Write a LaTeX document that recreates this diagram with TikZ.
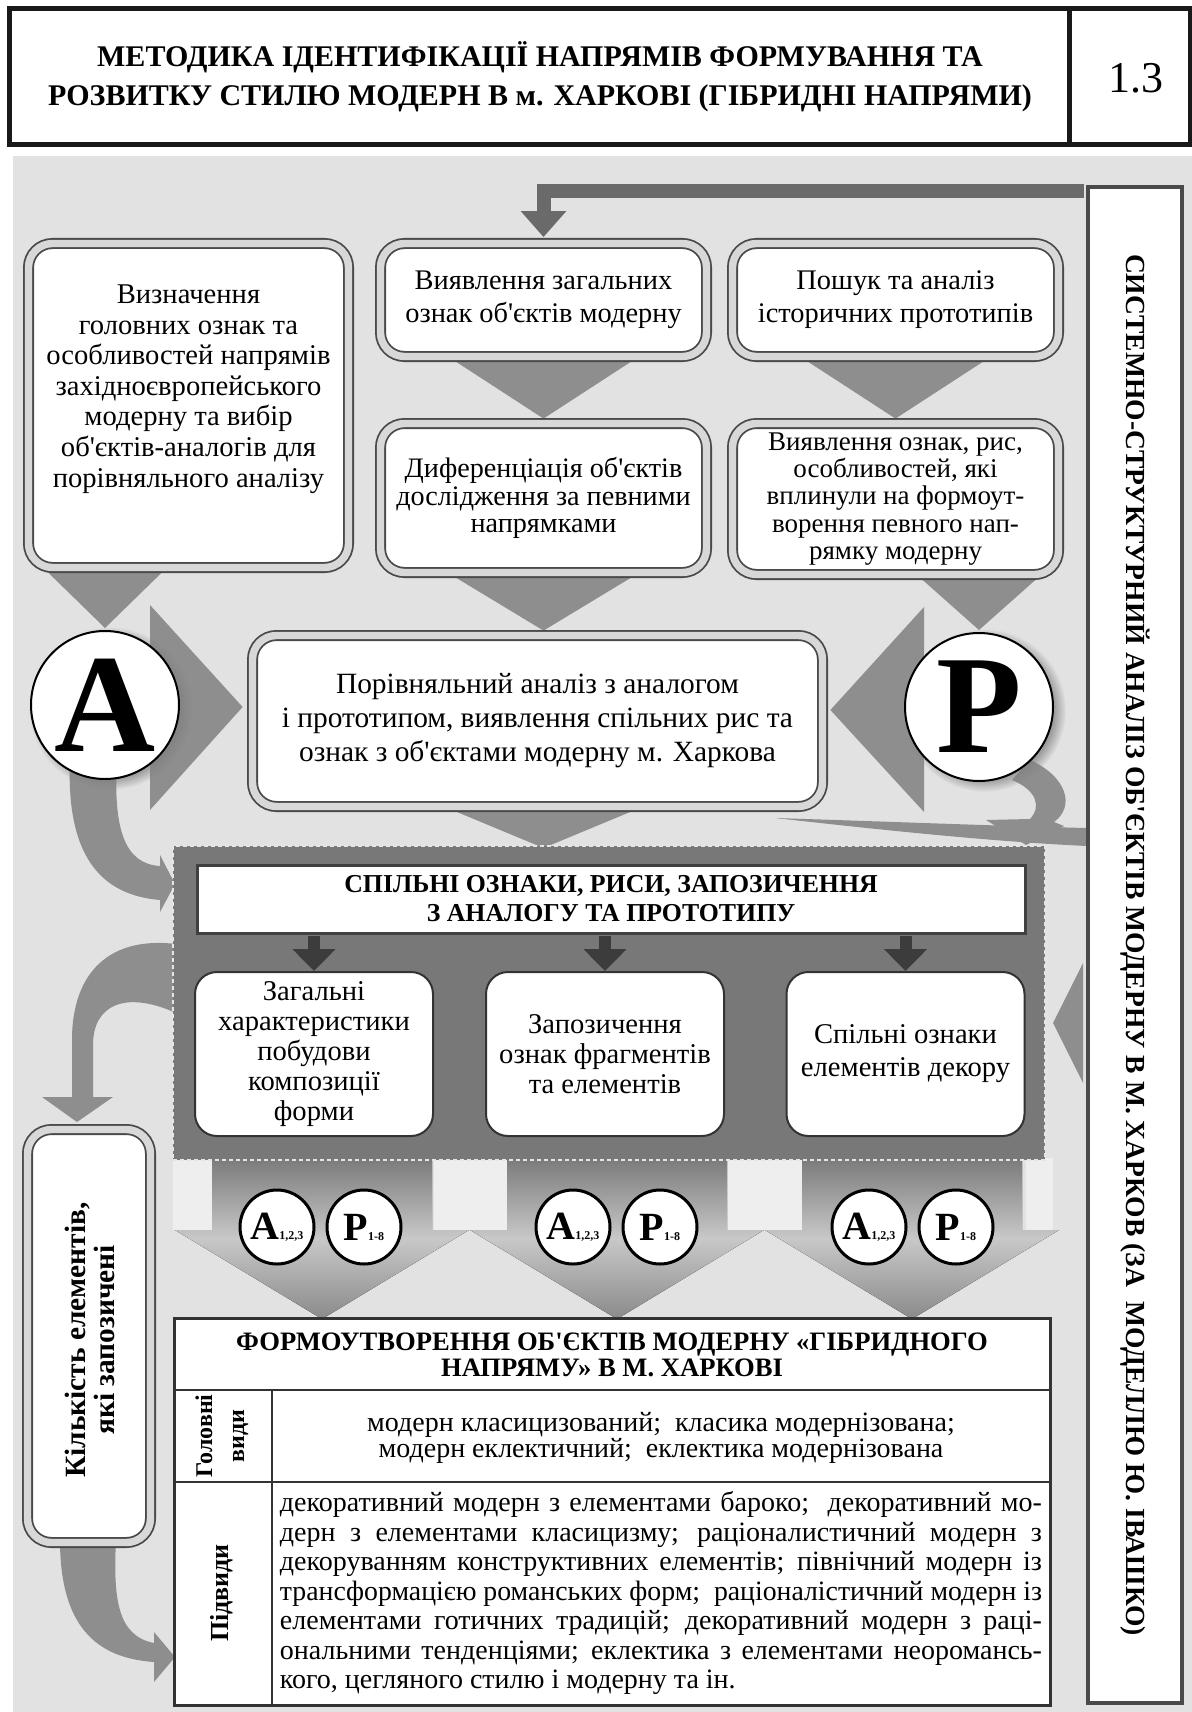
\documentclass[tikz,border=0pt]{standalone}
\usepackage{fontspec}
\usepackage{graphicx}
\setmainfont{Liberation Serif}[Ligatures=TeXOff]
\usetikzlibrary{calc,arrows.meta,shadows,backgrounds}
\definecolor{bg}{HTML}{E2E2E2}
\definecolor{marr}{HTML}{8E8E8E}
\definecolor{darr}{HTML}{6A6A6A}
\definecolor{bdark}{HTML}{4A4A4A}
\definecolor{dgray}{HTML}{787878}
\definecolor{gapc}{HTML}{D8D8D8}
\definecolor{sarr}{HTML}{3C3C3C}
\definecolor{patch}{HTML}{EEEEEE}
\definecolor{bshadeA}{HTML}{7A7A7A}
\definecolor{bshadeB}{HTML}{C8C8C8}
\definecolor{bshadeC}{HTML}{8A8A8A}
\newcommand\fsz[2]{\fontsize{#1}{#2}\selectfont}
\newsavebox\jlbox
\newcommand\jline[1]{\sbox\jlbox{#1}\ifdim\wd\jlbox>381pt \resizebox{381pt}{\height}{\usebox\jlbox}\else\makebox[381pt][s]{#1}\fi}
\tikzset{
 dbox/.style={draw=bdark, line width=0.9pt, double=gapc, double distance=3.7pt, fill=white, rounded corners=12pt, inner sep=0pt, align=center},
 sbox/.style={draw=black!80, line width=1pt, fill=white, rounded corners=11pt, inner sep=0pt, align=center, minimum width=119pt, minimum height=82pt},
 bigc/.style={circle, draw=black, line width=1pt, fill=white, inner sep=0pt, minimum size=74pt, circular drop shadow={shadow xshift=2.5pt, shadow yshift=-1.5pt, shadow scale=1.1, opacity=0.7}},
 smc/.style={circle, draw=black, line width=1.5pt, fill=white, inner sep=0pt, minimum size=37pt},
 sarrow/.style={draw=sarr, line width=6pt, -{Triangle[width=21pt,length=11pt]}, shorten <=0.75pt},
 tline/.style={draw=black!80, line width=1.2pt},
 blk/.style={top color=bshadeA, bottom color=bshadeC, middle color=bshadeB},
}
\begin{document}
\begin{tikzpicture}[x=0.5pt,y=-0.5pt]
\useasboundingbox (0,0) rectangle (1192,1712);
\clip (0,0) rectangle (1192,1712);
% header
\draw[line width=2.5pt, black!90] (9,9) rectangle (1190,145);
\draw[line width=2.5pt, black!90] (1069,9) -- (1069,145);
\node[font=\fsz{15}{19.5}\bfseries, align=center] (H) at (540,77) {МЕТОДИКА ІДЕНТИФІКАЦІЇ НАПРЯМІВ ФОРМУВАННЯ ТА\\РОЗВИТКУ СТИЛЮ МОДЕРН В м. ХАРКОВІ (ГІБРИДНІ НАПРЯМИ)};
\node[font=\fsz{22}{22}] (N) at (1136,78) {1.3};
% right vertical box
\node[draw=bdark, line width=2pt, fill=white, minimum width=47pt, minimum height=758pt, inner sep=0pt] (V) at (1135,945) {};
\node[rotate=-90, font=\fsz{13.8}{14}\bfseries] (Vt) at (V.center) {СИСТЕМНО-СТРУКТУРНИЙ АНАЛІЗ ОБ'ЄКТІВ МОДЕРНУ В М. ХАРКОВ (ЗА\ \ МОДЕЛЛЮ Ю. ІВАШКО)};
% top boxes
\node[dbox, minimum width=160pt, minimum height=162pt] (L1) at (188.5,405.5) {};
\node[font=\fsz{14.3}{15.3}, align=center] (L1t) at (188.5,389) {Визначення\\головних ознак та\\особливостей напрямів\\західноєвропейського\\модерну та вибір\\об'єктів-аналогів для\\порівняльного аналізу};
\node[dbox, minimum width=163pt, minimum height=56.5pt, font=\fsz{14.2}{16.5}] (M1) at (543.5,300) {Виявлення загальних\\ознак об'єктів модерну};
\node[dbox, minimum width=163pt, minimum height=56.5pt, font=\fsz{14.2}{16.5}] (R1) at (895.5,300) {Пошук та аналіз\\історичних прототипів};
\node[dbox, minimum width=163pt, minimum height=74.5pt, font=\fsz{14.1}{13.6}] (M2) at (543.5,498) {Диференціація об'єктів\\дослідження за певними\\напрямками};
\node[dbox, minimum width=163pt, minimum height=75.5pt, font=\fsz{13.5}{13.6}] (R2) at (895.5,499) {Виявлення ознак, рис,\\особливостей, які\\вплинули на формоут-\\ворення певного нап-\\рямку модерну};
\node[dbox, minimum width=285pt, minimum height=85.5pt, font=\fsz{14.7}{17}] (C) at (537.5,721) {Порівняльний аналіз з аналогом\\і прототипом, виявлення спільних рис та\\ознак з об'єктами модерну м. Харкова};
% big circles
\node[bigc, font=\fsz{70}{70}\bfseries] (A) at (105,705) {А};
\node[bigc, font=\fsz{70}{70}\bfseries] (P) at (979,707) {Р};
% dashed container
\node[fill=dgray, draw=white!90!black, line width=1pt, dash pattern=on 2pt off 1.5pt, minimum width=436pt, minimum height=157pt, inner sep=0pt] (D) at (609,1003) {};
\node[draw=black!75, line width=1.5pt, fill=white, minimum width=414pt, minimum height=34pt, inner sep=0pt, align=center, font=\fsz{12.9}{14.5}\bfseries] (T) at (611,899) {СПІЛЬНІ ОЗНАКИ, РИСИ, ЗАПОЗИЧЕННЯ\\З АНАЛОГУ ТА ПРОТОТИПУ};
\node[sbox, font=\fsz{14.3}{15}] (S1) at (314,1054) {Загальні\\характеристики\\побудови\\композиції\\форми};
\node[sbox, font=\fsz{14.3}{15}] (S2) at (605,1054) {Запозичення\\ознак фрагментів\\та елементів};
\node[sbox, font=\fsz{14.3}{16.5}] (S3) at (905.5,1054) {Спільні ознаки\\елементів декору};
\draw[sarrow] (T.south -| S1.north) -- (S1.north);
\draw[sarrow] (T.south -| S2.north) -- (S2.north);
\draw[sarrow] (T.south -| S3.north) -- (S3.north);
% small circles
\node[smc] (a1) at (277,1227) {\fsz{20}{20}\bfseries А\fsz{6}{6}1,2,3};
\node[smc] (p1) at (364,1227) {\fsz{20}{20}\bfseries Р\fsz{6}{6}1-8};
\node[smc] (a2) at (573,1227) {\fsz{20}{20}\bfseries А\fsz{6}{6}1,2,3};
\node[smc] (p2) at (660,1227) {\fsz{20}{20}\bfseries Р\fsz{6}{6}1-8};
\node[smc] (a3) at (869,1227) {\fsz{20}{20}\bfseries А\fsz{6}{6}1,2,3};
\node[smc] (p3) at (956,1227) {\fsz{20}{20}\bfseries Р\fsz{6}{6}1-8};
% table
\node[draw=black!80, line width=1.5pt, fill=white, minimum width=438pt, minimum height=193.5pt, inner sep=0pt] (Tab) at (612,1511.5) {};
\draw[tline] (174,1390) -- (1050,1390);
\draw[tline] (174,1482) -- (1050,1482);
\draw[tline] (272,1390) -- (272,1705);
\node[font=\fsz{13.3}{13.3}\bfseries, align=center] (TT) at (612,1355) {ФОРМОУТВОРЕННЯ ОБ'ЄКТІВ МОДЕРНУ «ГІБРИДНОГО\\НАПРЯМУ» В М. ХАРКОВІ};
\node[rotate=90, font=\fsz{12}{16}\bfseries, align=center] (G1) at (222,1436) {Головні\\види};
\node[font=\fsz{14}{12.8}, align=center] (G2) at (661,1438) {модерн класицизований;\ \ класика модернізована;\\модерн еклектичний;\ \ еклектика модернізована};
\node[rotate=90, font=\fsz{13}{14}\bfseries] (SubL) at (222,1593) {Підвиди};
\node[font=\fsz{14}{14.75}, align=left, inner sep=0pt] (SubT) at (661,1593) {%
\jline{декоративний модерн з елементами бароко;\ \ декоративний мо-}\\
\jline{дерн з елементами класицизму; раціоналистичний модерн з}\\
\jline{декоруванням конструктивних елементів; північний модерн із}\\
\jline{трансформацією романських форм;\ \ раціоналістичний модерн із}\\
\jline{елементами готичних традицій; декоративний модерн з раці-}\\
\jline{ональними тенденціями; еклектика з елементами неоромансь-}\\
\makebox[381pt][l]{кого, цегляного стилю і модерну та ін.}};
% left box
\node[dbox, minimum width=61.5pt, minimum height=206.5pt] (K) at (89,1336) {};
\node[rotate=90, font=\fsz{14.7}{14.5}\bfseries, align=center] (Kt) at (90,1340) {Кількість елементів,\\які запозичені};
% L-shaped dark arrow
\coordinate (barY) at (0,191);
\draw[darr, line width=7pt, -{Triangle[width=22pt,length=13pt]}, shorten <=1pt, shorten >=2.75pt] (V.west |- barY) -| (M1.north);
% background layer
\begin{scope}[on background layer]
\fill[white] (0,0) rectangle (1192,1712);
\fill[bg] (13,156) rectangle (1192,1712);
\fill[marr] ($(M1.south)+(-88,4)$) -- ($(M1.south)+(88,4)$) -- ($(M2.north)+(0,-4)$) -- cycle;
\fill[marr] ($(R1.south)+(-88,4)$) -- ($(R1.south)+(88,4)$) -- ($(R2.north)+(0,-4)$) -- cycle;
\fill[marr] ($(M2.south)+(-88,4)$) -- ($(M2.south)+(88,4)$) -- ($(C.north)+(6,-4)$) -- cycle;
\fill[marr] ($(C.south -| M2.south)+(-88,4)$) -- ($(C.south -| M2.south)+(88,4)$) -- ($(D.north -| M2.south)+(0,3)$) -- cycle;
\fill[marr] ($(A.north |- L1.south)+(-57,4)$) -- ($(A.north |- L1.south)+(57,4)$) -- ($(A.north)+(0,-2)$) -- cycle;
\fill[marr] ($(P.north |- R2.south)+(-57,4)$) -- ($(P.north |- R2.south)+(57,4)$) -- ($(P.north)+(0,-2)$) -- cycle;
\fill[marr] ($(A.center)+(45,-100)$) -- ($(A.center)+(45,105)$) -- ($(C.west)+(-9,-14)$) -- cycle;
\fill[marr] ($(P.center)+(-55,-100)$) -- ($(P.center)+(-55,105)$) -- ($(C.east)+(7,-11)$) -- cycle;
\fill[marr] ($(V.west)+(-3,18)$) -- ($(V.west)+(-3,138)$) -- ($(V.west)+(-33,78)$) -- cycle;
% curved arrows
\fill[marr] (70,760) .. controls (66,855) and (100,895) .. (160,900) -- (160,912) -- (175,884) -- (160,855) -- (160,866) .. controls (125,864) and (113,830) .. (117,760) -- cycle;
\fill[marr] (176,944) .. controls (110,936) and (72,972) .. (72,1040) -- (72,1097) -- (42,1097) -- (77,1122) -- (113,1097) -- (93,1097) -- (93,1045) .. controls (93,1005) and (125,990) .. (176,1013) -- cycle;
\fill[marr] (60,1540) .. controls (60,1625) and (95,1658) .. (154,1662) -- (154,1682) -- (175,1657) -- (154,1632) -- (154,1643) .. controls (118,1636) and (113,1600) .. (116,1540) -- cycle;
\fill[marr] (1030,760) .. controls (1066,776) and (1076,806) .. (1054,822) -- (1064,826) -- (1026,845) -- (986,820) -- (1030,819) .. controls (1042,806) and (1036,790) .. (1012,780) -- cycle;
\fill[marr] (775,818) .. controls (900,822) and (1000,826) .. (1087,828) -- (1087,846) .. controls (1000,842) and (900,832) .. (775,818) -- cycle;
% light patches and block arrows
\fill[patch] (173,1158) rectangle (213,1230);
\fill[patch] (434,1158) rectangle (508,1230);
\fill[patch] (726,1158) rectangle (802,1230);
\fill[patch] (1026,1158) rectangle (1053,1230);
\foreach \c in {322,617,912}
  \fill[blk] (\c-110,1158) -- (\c+110,1158) -- (\c+110,1230) -- (\c+147,1230) -- (\c,1319) -- (\c-147,1230) -- (\c-110,1230) -- cycle;
\end{scope}
\end{tikzpicture}
\end{document}
